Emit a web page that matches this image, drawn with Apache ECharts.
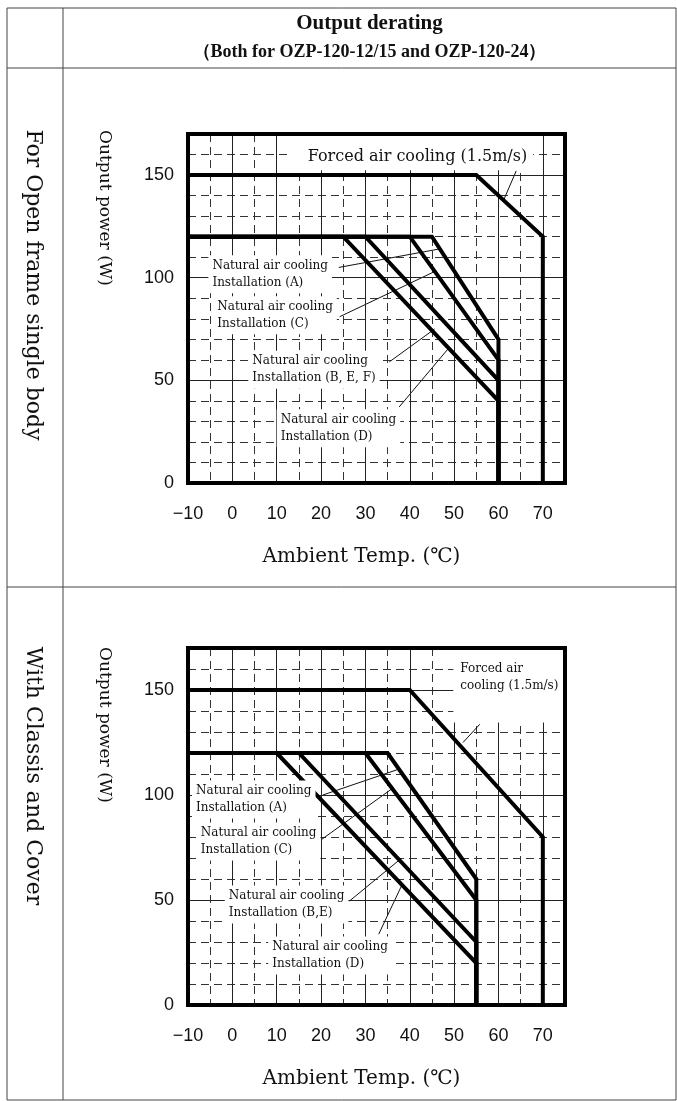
<!DOCTYPE html>
<html><head><meta charset="utf-8">
<script src="https://cdn.jsdelivr.net/npm/echarts@6/dist/echarts.min.js"></script>
<style>html,body{margin:0;padding:0;background:#fff}#c{width:677px;height:1101px}</style>
</head><body><div id="c"></div>
<script>
// ---- tick labels ----
const xTicks = [-10, 0, 10, 20, 30, 40, 50, 60, 70];
const yTicks = [0, 50, 100, 150];

// ---- Open frame single body (W vs degC) ----
const openForced = [[-10,150],[55,150],[70,120],[70,0]];
const openNatA   = [[-10,120],[45,120],[60,70],[60,0]];
const openNatC   = [[-10,120],[40,120],[60,60],[60,0]];
const openNatBEF = [[-10,120],[30,120],[60,50],[60,0]];
const openNatD   = [[-10,120],[25,120],[60,40],[60,0]];

// ---- With chassis and cover ----
const chassisForced = [[-10,150],[40,150],[70,80],[70,0]];
const chassisNatA   = [[-10,120],[35,120],[55,60],[55,0]];
const chassisNatC   = [[-10,120],[30,120],[55,50],[55,0]];
const chassisNatBE  = [[-10,120],[15,120],[55,30],[55,0]];
const chassisNatD   = [[-10,120],[10,120],[55,20],[55,0]];

// ---- texts ----
const titleLines = ['Output derating', '\uFF08Both for OZP-120-12/15 and OZP-120-24\uFF09'];
const rowNames = ['For Open frame single body', 'With Classis and Cover'];
const xName = 'Ambient Temp. (\u2103)';
const yName = 'Output power (W)';

// annotation placement (data coordinates of each chart)
const notesTop = [
  {text:'Forced air cooling (1.5m/s)', at:[17,164], size:16, pad:[12,6,2,17], leader:[[64,152],[61.2,138]]},
  {text:'Natural air cooling\nInstallation (A)', at:[-4.5,110], size:12, pad:[2,4,2,4], leader:[[24,105],[46.7,114]]},
  {text:'Natural air cooling\nInstallation (C)', at:[-3.4,90], size:12, pad:[2,4,2,4], leader:[[24.2,81],[45.6,103]]},
  {text:'Natural air cooling\nInstallation (B, E, F)', at:[4.5,63.4], size:12, pad:[2,4,2,4], leader:[[35.4,59],[45.6,75]]},
  {text:'Natural air cooling\nInstallation (D)', at:[10.9,35], size:12, pad:[2,4,2,4], leader:[[37.6,37],[48.7,65.5]]}
];
const notesBottom = [
  {text:'Forced air\ncooling (1.5m/s)', at:[51.4,164], size:12, pad:[15,5,28,7], leader:[[55.8,133.7],[52,125]]},
  {text:'Natural air cooling\nInstallation (A)', at:[-8.2,106], size:12, pad:[2,4,2,4], leader:[[20.4,100],[37.1,112]]},
  {text:'Natural air cooling\nInstallation (C)', at:[-7.1,86], size:12, pad:[2,4,2,4], leader:[[20.1,78.8],[36,103]]},
  {text:'Natural air cooling\nInstallation (B,E)', at:[-0.8,56], size:12, pad:[2,4,2,4], leader:[[26.4,49.5],[37.5,68.8]]},
  {text:'Natural air cooling\nInstallation (D)', at:[9,31.7], size:12, pad:[2,4,2,4], leader:[[33,33.7],[38.2,57]]}
];

const SERIF = 'DejaVu Serif';
const SANS = 'Liberation Sans';
const chart = echarts.init(document.getElementById('c'));

function mkX(i) {
  return {
    gridIndex: i, type: 'value', min: -10, max: 75, interval: 5,
    axisLine: {show: false}, axisTick: {show: false},
    axisLabel: {margin: 22, fontFamily: SANS, fontSize: 18, color: '#111', showMaxLabel: false,
      formatter: v => xTicks.includes(v) ? String(v).replace('-', '\u2212') : ''},
    splitLine: {show: true, lineStyle: {type: [8, 5], color: '#333', width: 1}},
    name: xName, nameLocation: 'middle', nameGap: 64,
    nameTextStyle: {fontFamily: SERIF, fontSize: 20, color: '#111', padding: [0, 30, 0, 0]}
  };
}
function mkY(i) {
  return {
    gridIndex: i, type: 'value', min: 0, max: 170, interval: 10,
    axisLine: {show: false}, axisTick: {show: false},
    axisLabel: {margin: 14, fontFamily: SANS, fontSize: 18, color: '#111', showMaxLabel: false,
      formatter: v => yTicks.includes(v) ? String(v) : ''},
    splitLine: {show: true, lineStyle: {type: [8, 5], color: '#333', width: 1}}
  };
}
function solidGrid(i) {
  return {
    type: 'line', xAxisIndex: i, yAxisIndex: i, data: [], silent: true, z: 1,
    markLine: {silent: true, symbol: 'none', label: {show: false}, animation: false,
      lineStyle: {type: 'solid', color: '#222', width: 1},
      data: [...xTicks.filter(v => v > -10).map(v => ({xAxis: v})),
             ...yTicks.filter(v => v > 0).map(v => ({yAxis: v}))]}
  };
}
function curve(i, data) {
  return {type: 'line', xAxisIndex: i, yAxisIndex: i, data: data, showSymbol: false, symbol: 'none',
    silent: true, z: 5, lineStyle: {color: '#000', width: 4, join: 'miter'}};
}
function leaders(i, notes) {
  return notes.map(n => ({type: 'line', xAxisIndex: i, yAxisIndex: i, data: n.leader, showSymbol: false,
    symbol: 'none', silent: true, z: 4, lineStyle: {color: '#111', width: 1}}));
}

const grids = [
  {left: 188, top: 134, width: 377, height: 349},
  {left: 188, top: 648, width: 377, height: 357}
].map(g => Object.assign(g, {show: true, borderColor: '#000', borderWidth: 4, backgroundColor: 'transparent', z: 60}));

chart.setOption({
  animation: false,
  backgroundColor: '#fff',
  grid: grids,
  xAxis: [mkX(0), mkX(1)],
  yAxis: [mkY(0), mkY(1)],
  series: [
    solidGrid(0), solidGrid(1),
    ...leaders(0, notesTop), ...leaders(1, notesBottom),
    curve(0, openForced), curve(0, openNatA), curve(0, openNatC), curve(0, openNatBEF), curve(0, openNatD),
    curve(1, chassisForced), curve(1, chassisNatA), curve(1, chassisNatC), curve(1, chassisNatBE), curve(1, chassisNatD)
  ]
});

// ---- table frame, titles, names and annotation boxes ----
const L = 7, R = 676, T = 8, B = 1100, COL = 63, HDR = 68, MID = 587;
const g = [];
function ln(x1, y1, x2, y2) {
  g.push({type: 'line', z: 50, silent: true, shape: {x1, y1, x2, y2}, style: {stroke: '#444', lineWidth: 1}});
}
ln(L, T, R, T); ln(L, B, R, B); ln(L, T, L, B); ln(R, T, R, B); ln(COL, T, COL, B); ln(L, HDR, R, HDR); ln(L, MID, R, MID);

g.push({type: 'text', z: 50, silent: true, x: (COL + R) / 2, y: 24,
  style: {text: titleLines[0], fill: '#111', font: 'bold 21px "Liberation Serif"', textAlign: 'center', textVerticalAlign: 'middle'}});
g.push({type: 'text', z: 50, silent: true, x: (COL + R) / 2, y: 52,
  style: {text: titleLines[1], fill: '#111', font: 'bold 18px "Liberation Serif"', textAlign: 'center', textVerticalAlign: 'middle'}});

const rowCenters = [285, 776];
const yNameCenters = [208, 725];
rowNames.forEach((t, i) => {
  g.push({type: 'text', z: 50, silent: true, x: 33, y: rowCenters[i], rotation: -Math.PI / 2,
    style: {text: t, fill: '#111', font: '22px "' + SERIF + '"', textAlign: 'center', textVerticalAlign: 'middle'}});
  g.push({type: 'text', z: 50, silent: true, x: 104, y: yNameCenters[i], rotation: -Math.PI / 2,
    style: {text: yName, fill: '#111', font: '17px "' + SERIF + '"', textAlign: 'center', textVerticalAlign: 'middle'}});
});

[notesTop, notesBottom].forEach((notes, i) => {
  notes.forEach(n => {
    const p = chart.convertToPixel({xAxisIndex: i, yAxisIndex: i}, n.at);
    g.push({type: 'text', z: 40, silent: true, x: p[0] - n.pad[3], y: p[1] - n.pad[0],
      style: {text: n.text, fill: '#111', font: n.size + 'px "' + SERIF + '"', lineHeight: Math.round(n.size * 1.4),
        textAlign: 'left', textVerticalAlign: 'top', backgroundColor: '#fff', padding: n.pad}});
  });
});

chart.setOption({graphic: {elements: g}});
</script>
</body></html>
